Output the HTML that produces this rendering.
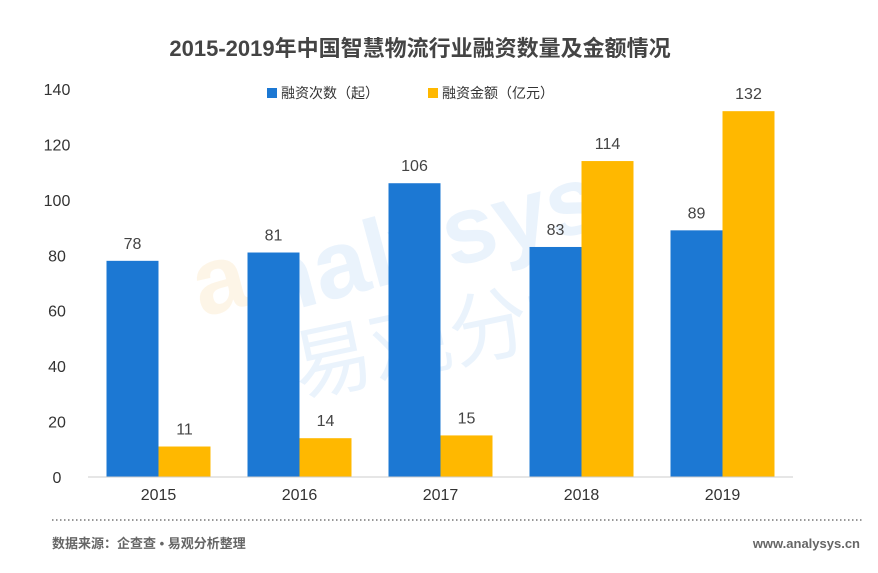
<!DOCTYPE html>
<html><head><meta charset="utf-8"><style>
body{margin:0;background:#fff;width:878px;height:568px;overflow:hidden;font-family:"Liberation Sans","Noto Sans CJK SC",sans-serif;}
</style></head><body>
<svg id="chart" width="878" height="568" xmlns="http://www.w3.org/2000/svg" font-family="Liberation Sans, Noto Sans CJK SC, sans-serif">
<text x="420" y="56" text-anchor="middle" font-size="22" font-weight="bold" fill="#444">2015-2019年中国智慧物流行业融资数量及金额情况</text>
<g opacity="0.1">
<text x="190" y="290" font-size="96" font-weight="bold" fill="#f5a623" transform="rotate(-15 300 260)">a</text>
<text x="250" y="280" font-size="96" font-weight="bold" fill="#3a8ee6" transform="rotate(-15 400 240)">nalysys</text>
<text x="290" y="370" font-size="80" fill="#3a8ee6" transform="rotate(-12 420 340)">易观分析</text>
</g>
<g font-size="14" fill="#333">
<rect x="267" y="88" width="10" height="10" fill="#1c78d3"/><text x="281" y="98">融资次数（起）</text>
<rect x="428" y="88" width="10" height="10" fill="#ffb800"/><text x="442" y="98">融资金额（亿元）</text>
</g>
<g id="yaxis"></g>
<g id="bars"></g>
<g id="xaxis"></g>
<line x1="52" y1="520" x2="862" y2="520" stroke="#777" stroke-width="1.5" stroke-dasharray="1.5,2.5"/>
<text x="52" y="548" font-size="13" font-weight="bold" fill="#666">数据来源：企查查 • 易观分析整理</text>
<text x="860" y="548" text-anchor="end" font-size="13" font-weight="bold" fill="#666">www.analysys.cn</text>
</svg>
<script>
const categories=["2015","2016","2017","2018","2019"];
const countValues=[78,81,106,83,89];
const amountValues=[11,14,15,114,132];
const yTicks=[0,20,40,60,80,100,120,140];
const NS="http://www.w3.org/2000/svg";
const x0=88,step=141,bw=52,yBase=477,yTop=89,yMax=140;
const y=v=>yBase-(v/yMax)*(yBase-yTop);
const cx=i=>x0+step*(i+0.5);
function mk(tag,attrs,parent,txt){const e=document.createElementNS(NS,tag);for(const k in attrs)e.setAttribute(k,attrs[k]);if(txt!==undefined)e.textContent=txt;parent.appendChild(e);return e;}
const ya=document.getElementById('yaxis'),ba=document.getElementById('bars'),xa=document.getElementById('xaxis');
yTicks.forEach(t=>{const e=mk('text',{x:57,y:y(t)+6,'text-anchor':'middle','font-size':16,fill:'#333'},ya,t);

});
const ax=mk('line',{x1:x0,y1:yBase,x2:x0+step*5,y2:yBase,stroke:'#ccc'},xa);


categories.forEach((c,i)=>{
 const r1=mk('rect',{x:cx(i)-bw,y:y(countValues[i]),width:bw,height:yBase-y(countValues[i]),fill:'#1c78d3'},ba);
 
 
 const l1=mk('text',{x:cx(i)-bw/2,y:y(countValues[i])-12,'text-anchor':'middle','font-size':16,fill:'#444'},ba,countValues[i]);
 
 
 const r2=mk('rect',{x:cx(i),y:y(amountValues[i]),width:bw,height:yBase-y(amountValues[i]),fill:'#ffb800'},ba);
 
 
 const l2=mk('text',{x:cx(i)+bw/2,y:y(amountValues[i])-12,'text-anchor':'middle','font-size':16,fill:'#444'},ba,amountValues[i]);
 
 
 const xl=mk('text',{x:cx(i),y:500,'text-anchor':'middle','font-size':16,fill:'#333'},xa,c);
 
 
});
</script>
</body></html>
